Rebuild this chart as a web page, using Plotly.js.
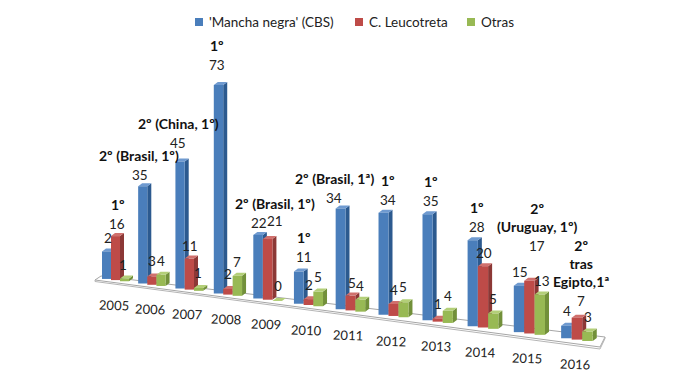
<!DOCTYPE html>
<html><head><meta charset="utf-8">
<script src="https://cdn.plot.ly/plotly-3.0.1.min.js"></script>
<style>html,body{margin:0;padding:0;background:#fff}#c{width:700px;height:387px}</style>
</head><body><div id="c"></div>
<script>
const years = ['2005','2006','2007','2008','2009','2010','2011','2012','2013','2014','2015','2016'];
const seriesNames = ["'Mancha negra' (CBS)", 'C. Leucotreta', 'Otras'];
const manchaNegra = [10,35,45,73,22,11,34,34,35,28,15,4];
const leucotreta = [16,3,11,2,21,2,5,4,1,20,17,7];
const otras = [1,4,1,7,0,5,4,5,4,5,13,3];
const manchaLabels = ['2','35','45','73','22','11','34','34','35','28','15','4'];
const leucotretaLabels = ['16','3','11','2','21','2','5','4','1','20','17','7'];
const otrasLabels = ['1','4','1','7','0','5','4','5','4','5','13','3'];
const rankLabels = ['1º','2º (Brasil, 1º)','2º (China, 1º)','1º','2º (Brasil, 1º)','1º','2º (Brasil, 1ª)','1º','1º','1º','2º<br>(Uruguay, 1º)','2º<br>tras<br>Egipto,1ª'];

/* ---- styling and fake-perspective geometry ---- */
const H = 387;
const FONT = 'Lato, "Open Sans", sans-serif';
const front = ['#4a7ebb','#be4b48','#98b954'];
const side  = ['#2c5a8f','#8c3836','#72903a'];
const topc  = ['#6f9ad0','#d0706d','#b3cf78'];
const groupX = i => 116.5 + 35.8*i + 0.559*i*i;
const barW = i => 9 + 0.14*i;
const unit = i => 2.75 + 0.035*i;
const floorPx = x => 279 + 0.129*(x-107);
const up = p => H - p;               // y axis runs in screen-sized units
const DX = 4, DY = 3;

const all = [manchaNegra, leucotreta, otras];
const labelSets = [manchaLabels, leucotretaLabels, otrasLabels];
const barX = (s,i) => groupX(i) + (s-1)*barW(i) - 1;

const labelDx = [
 [1,-3,-2,-2,1,5,-7,4.5,3.4,4.3,1,1],
 [1.5,0,1,0,7,1,1.6,0.5,0.3,1,7.6,4],
 [-1.5,0,-0.6,-0.4,1,0,0,-0.5,0.2,-0.3,2,1]];
const labelDy = [
 [13.6,11.2,18.6,20.1,12,14.7,10.7,12.9,13.4,13.5,13.7,14.9],
 [12.3,15.6,12.8,15.1,18.2,14.3,12.8,14.2,14.9,13.4,35,17],
 [13.6,14,15.1,13.9,15,14.8,14,15.4,15,14.7,13.7,14.7]];
const rankHost = [1,0,0,0,0,0,0,0,0,0,1,1];
const rankDx = [1,-1,0,0,16,0,1,0,0,0,0,0];

const traces = [], annotations = [];
all.forEach((vals,s) => {
  const xs = vals.map((_,i)=>barX(s,i));
  const bases = xs.map(x=>up(floorPx(x)));
  const hs = vals.map((v,i)=>v*unit(i));
  const sx=[], sy=[], tx=[], ty=[];
  vals.forEach((v,i)=>{
    const r = xs[i]+barW(i)/2, l = xs[i]-barW(i)/2, b = bases[i], t = b+hs[i];
    sx.push(r,r+DX,r+DX,r,null); sy.push(b,b+DY,t+DY,t,null);
    tx.push(l,l+DX,r+DX,r,null); ty.push(t,t+DY,t+DY,t,null);
  });
  const z = s*2+1;
  traces.push({type:'scatter',mode:'lines',x:sx,y:sy,fill:'toself',fillcolor:side[s],line:{width:0,color:side[s]},hoverinfo:'skip',showlegend:false,zorder:z});
  traces.push({type:'scatter',mode:'lines',x:tx,y:ty,fill:'toself',fillcolor:topc[s],line:{width:0,color:topc[s]},hoverinfo:'skip',showlegend:false,zorder:z});
  traces.push({type:'bar',name:seriesNames[s],x:xs,y:hs,base:bases,width:vals.map((_,i)=>barW(i)),
    marker:{color:front[s],line:{width:0}},customdata:years,text:vals.map(String),textposition:'none',
    hovertemplate:'%{customdata}: %{text}<extra>'+seriesNames[s]+'</extra>',showlegend:false,zorder:z+1});
  vals.forEach((v,i)=>{
    annotations.push({x:xs[i]+labelDx[s][i],y:bases[i]+hs[i]+labelDy[s][i],text:labelSets[s][i],showarrow:false,
      xanchor:'center',yanchor:'middle',font:{family:FONT,size:13.5,color:'#222'}});
  });
});

years.forEach((yr,i)=>{
  annotations.push({x:groupX(i)-3,y:up(floorPx(groupX(i))+24.5),text:yr,showarrow:false,textangle:2,
    xanchor:'center',yanchor:'middle',font:{family:FONT,size:13,color:'#222'}});
  const s = rankHost[i], x = barX(s,i)+labelDx[s][i]+rankDx[i];
  const y = up(floorPx(barX(s,i))) + all[s][i]*unit(i) + labelDy[s][i] + 10;
  annotations.push({x,y,text:rankLabels[i],showarrow:false,xanchor:'center',yanchor:'bottom',
    font:{family:FONT,size:14,color:'#111',weight:700},borderpad:0});
});

/* legend drawn at the reference's own spacing */
const legendAt = [[195,207],[355,367],[467,479]];
const shapes = [];
legendAt.forEach((p,s)=>{
  shapes.push({type:'rect',xref:'x',yref:'y',x0:p[0],x1:p[0]+8,y0:up(26),y1:up(18),fillcolor:front[s],line:{width:0}});
  annotations.push({x:p[1],y:up(22),text:seriesNames[s],showarrow:false,xanchor:'left',yanchor:'middle',
    font:{family:FONT,size:13.5,color:'#222'}});
});
/* floor plate */
const P = (x,y)=>x+','+up(y);
shapes.push({type:'path',layer:'below',xref:'x',yref:'y',
  path:'M'+P(101,276)+' L'+P(95,280)+' L'+P(600,347)+' L'+P(605,337)+' Z',
  fillcolor:'#fff',line:{color:'#a6a6a6',width:1}});
shapes.push({type:'path',layer:'below',xref:'x',yref:'y',
  path:'M'+P(95,280)+' L'+P(95,281.5)+' L'+P(600,349)+' L'+P(605,338.5)+' L'+P(605,337),
  line:{color:'#b5b5b5',width:1}});

Plotly.newPlot('c',traces,{
  width:700,height:387,margin:{l:0,r:0,t:0,b:0},
  paper_bgcolor:'#fff',plot_bgcolor:'#fff',
  barmode:'overlay',showlegend:false,
  xaxis:{range:[0,700],visible:false,fixedrange:true},
  yaxis:{range:[0,H],visible:false,fixedrange:true},
  annotations,shapes
},{displayModeBar:false,staticPlot:true});
</script></body></html>
